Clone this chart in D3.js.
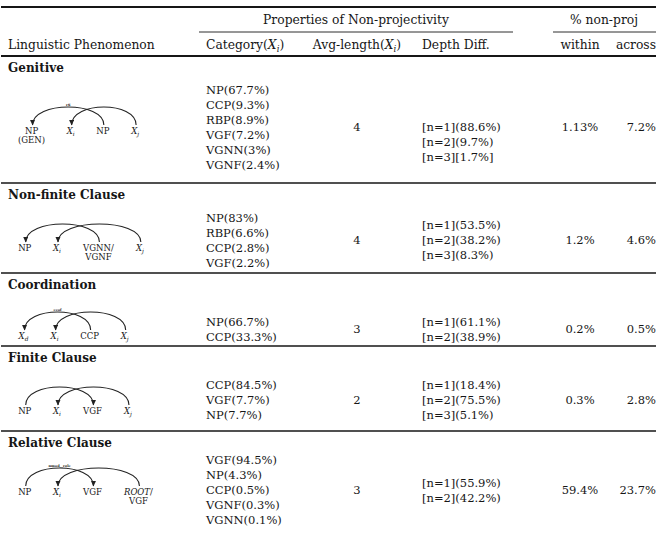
<!DOCTYPE html>
<html>
<head>
<meta charset="utf-8">
<script src="https://cdn.jsdelivr.net/npm/d3@7"></script>
<style>
body { margin: 0; background: #fff; }
svg text { font-family: "DejaVu Serif", serif; fill: #161616; }
</style>
</head>
<body>
<div id="table"></div>
<script>
// ---- table content ----
var phenomena = ["Genitive", "Non-finite Clause", "Coordination", "Finite Clause", "Relative Clause"];

var categories = [
    ["NP(67.7%)", "CCP(9.3%)", "RBP(8.9%)", "VGF(7.2%)", "VGNN(3%)", "VGNF(2.4%)"],
    ["NP(83%)", "RBP(6.6%)", "CCP(2.8%)", "VGF(2.2%)"],
    ["NP(66.7%)", "CCP(33.3%)"],
    ["CCP(84.5%)", "VGF(7.7%)", "NP(7.7%)"],
    ["VGF(94.5%)", "NP(4.3%)", "CCP(0.5%)", "VGNF(0.3%)", "VGNN(0.1%)"]
];

var avgLength = [4, 4, 3, 2, 3];

var depthDiff = [
    ["[n=1](88.6%)", "[n=2](9.7%)", "[n=3][1.7%]"],
    ["[n=1](53.5%)", "[n=2](38.2%)", "[n=3](8.3%)"],
    ["[n=1](61.1%)", "[n=2](38.9%)"],
    ["[n=1](18.4%)", "[n=2](75.5%)", "[n=3](5.1%)"],
    ["[n=1](55.9%)", "[n=2](42.2%)"]
];

var withinPct = ["1.13%", "1.2%", "0.2%", "0.3%", "59.4%"];
var acrossPct = ["7.2%", "4.6%", "0.5%", "2.8%", "23.7%"];

// dependency sketches: "\n" = second line, X_i = math X with subscript, *..* = italic
var diagramWords = [
    ["NP\n(GEN)", "X_i", "NP", "X_j"],
    ["NP", "X_i", "VGNN/\nVGNF", "X_j"],
    ["X_d", "X_i", "CCP", "X_j"],
    ["NP", "X_i", "VGF", "X_j"],
    ["NP", "X_i", "VGF", "*ROOT*/\nVGF"]
];
var diagramArcs = [
    [{from: 2, to: 0, label: "r6"}, {from: 3, to: 1}],
    [{from: 2, to: 0}, {from: 3, to: 1}],
    [{from: 2, to: 0, label: "ccof"}, {from: 3, to: 1}],
    [{from: 0, to: 2}, {from: 3, to: 1}],
    [{from: 0, to: 2, label: "nmod__relc"}, {from: 3, to: 1}]
];

var headerTop = ["Properties of Non-projectivity", "% non-proj"];
var headerCols = ["Linguistic Phenomenon", "Category(X_i)", "Avg-length(X_i)", "Depth Diff.", "within", "across"];

// ---- layout ----
var width = 656, height = 538;
var col = {phen: 8, cat: 206, avg: 357, depth: 422, within: 580, across: 656};
var ruleY = [56, 183, 273, 346, 431];       // rule above each section
var midY = [127, 240, 329, 400, 490];       // vertical centre of each section body
var depthShift = [15, 0, 0, 0, 0];
var wordY = [134, 251, 339, 414, 495];      // baseline of sketch words
var lineH = 15, bodySize = 11.5, headSize = 12.3, wordSize = 8.5;

var svg = d3.select("#table")
    .append("svg")
        .attr("width", width)
        .attr("height", height);

svg.append("defs").append("marker")
    .attr("id", "arrow")
    .attr("viewBox", "0 -5 10 10")
    .attr("refX", 9).attr("refY", 0)
    .attr("markerWidth", 5.5).attr("markerHeight", 5.5)
    .attr("markerUnits", "userSpaceOnUse")
    .attr("orient", "auto")
  .append("path")
    .attr("d", "M0,-4.5L10,0L0,4.5Z")
    .attr("fill", "#222");

// writes a string with X_i style math into a text element
function rich(t, s, fs) {
    var shift = 0;
    s.split(/(X_\w|\*[^*]+\*)/).forEach(function(p) {
        if (!p) return;
        if (/^X_\w$/.test(p)) {
            t.append("tspan").attr("dy", -shift).style("font-style", "italic").text("X");
            t.append("tspan").attr("dy", fs * 0.28).style("font-style", "italic")
                .style("font-size", (fs * 0.7) + "px").text(p[2]);
            shift = fs * 0.28;
        } else if (p[0] == "*") {
            t.append("tspan").attr("dy", -shift).style("font-style", "italic").text(p.slice(1, -1));
            shift = 0;
        } else {
            t.append("tspan").attr("dy", -shift).text(p);
            shift = 0;
        }
    });
}

function hline(y, x1, x2, w) {
    svg.append("line")
        .attr("x1", x1).attr("x2", x2)
        .attr("y1", y).attr("y2", y)
        .attr("stroke", "#161616")
        .attr("stroke-width", w);
}

// ---- rules ----
hline(7, 1, 656, 1.8);
hline(32, 199, 513, 0.9);
hline(32, 553, 656, 0.9);
ruleY.forEach(function(y, i) { hline(y, 1, 656, i == 0 ? 1.8 : 1.4); });

// ---- headers ----
svg.append("text").attr("x", 356).attr("y", 24).attr("text-anchor", "middle")
    .style("font-size", headSize + "px").text(headerTop[0]);
svg.append("text").attr("x", 604).attr("y", 24).attr("text-anchor", "middle")
    .style("font-size", headSize + "px").text(headerTop[1]);

var headX = [col.phen, col.cat, col.avg, col.depth, col.within, col.across];
var headAnchor = ["start", "start", "middle", "start", "middle", "end"];
headerCols.forEach(function(h, i) {
    var t = svg.append("text")
        .attr("x", headX[i]).attr("y", 49)
        .attr("text-anchor", headAnchor[i])
        .style("font-size", headSize + "px");
    rich(t, h, headSize);
});

// ---- body ----
function block(arr, x, cy, anchor) {
    var n = arr.length;
    var y = d3.scaleLinear()
        .domain([0, Math.max(n - 1, 1)])
        .range([cy - (n - 1) * lineH / 2, cy - (n - 1) * lineH / 2 + Math.max(n - 1, 1) * lineH]);
    svg.append("g").selectAll("text")
        .data(arr)
        .enter().append("text")
            .attr("x", x)
            .attr("y", function(d, i) { return y(i) + 4; })
            .attr("text-anchor", anchor)
            .style("font-size", bodySize + "px")
            .text(function(d) { return d; });
}

phenomena.forEach(function(name, s) {
    svg.append("text")
        .attr("x", col.phen).attr("y", ruleY[s] + 16)
        .style("font-size", "12px").style("font-weight", "bold")
        .text(name);

    block(categories[s], col.cat, midY[s], "start");
    block([String(avgLength[s])], col.avg, midY[s], "middle");
    block(depthDiff[s], col.depth, midY[s] + depthShift[s], "start");
    block([withinPct[s]], col.within, midY[s], "middle");
    block([acrossPct[s]], col.across, midY[s], "end");

    // dependency sketch, words laid out left to right with a fixed gap
    var g = svg.append("g");
    var x0 = 18, gap = 21, centers = [];
    diagramWords[s].forEach(function(w) {
        var wg = g.append("g");
        w.split("\n").forEach(function(p, k) {
            var t = wg.append("text")
                .attr("y", wordY[s] + k * 9)
                .attr("text-anchor", "middle")
                .style("font-size", wordSize + "px");
            rich(t, p, wordSize);
        });
        var bw = wg.node().getBBox().width;
        var cx = x0 + bw / 2;
        wg.attr("transform", "translate(" + cx + ",0)");
        centers.push(cx);
        x0 += bw + gap;
    });

    var y0 = wordY[s] - 9, top = wordY[s] - 27;
    var c = y0 - (y0 - top) / 0.75;
    diagramArcs[s].forEach(function(a) {
        var x1 = centers[a.from] + 1, x2 = centers[a.to] + 1;
        g.append("path")
            .attr("d", "M" + x1 + "," + y0 + "C" + x1 + "," + c + " " + x2 + "," + c + " " + x2 + "," + y0)
            .attr("fill", "none")
            .attr("stroke", "#222")
            .attr("stroke-width", 1.1)
            .attr("marker-end", "url(#arrow)");
        if (a.label) {
            g.append("text")
                .attr("x", (x1 + x2) / 2).attr("y", top - 1.5)
                .attr("text-anchor", "middle")
                .style("font-size", "3.5px").style("font-weight", "bold")
                .text(a.label);
        }
    });
});
</script>
</body>
</html>
